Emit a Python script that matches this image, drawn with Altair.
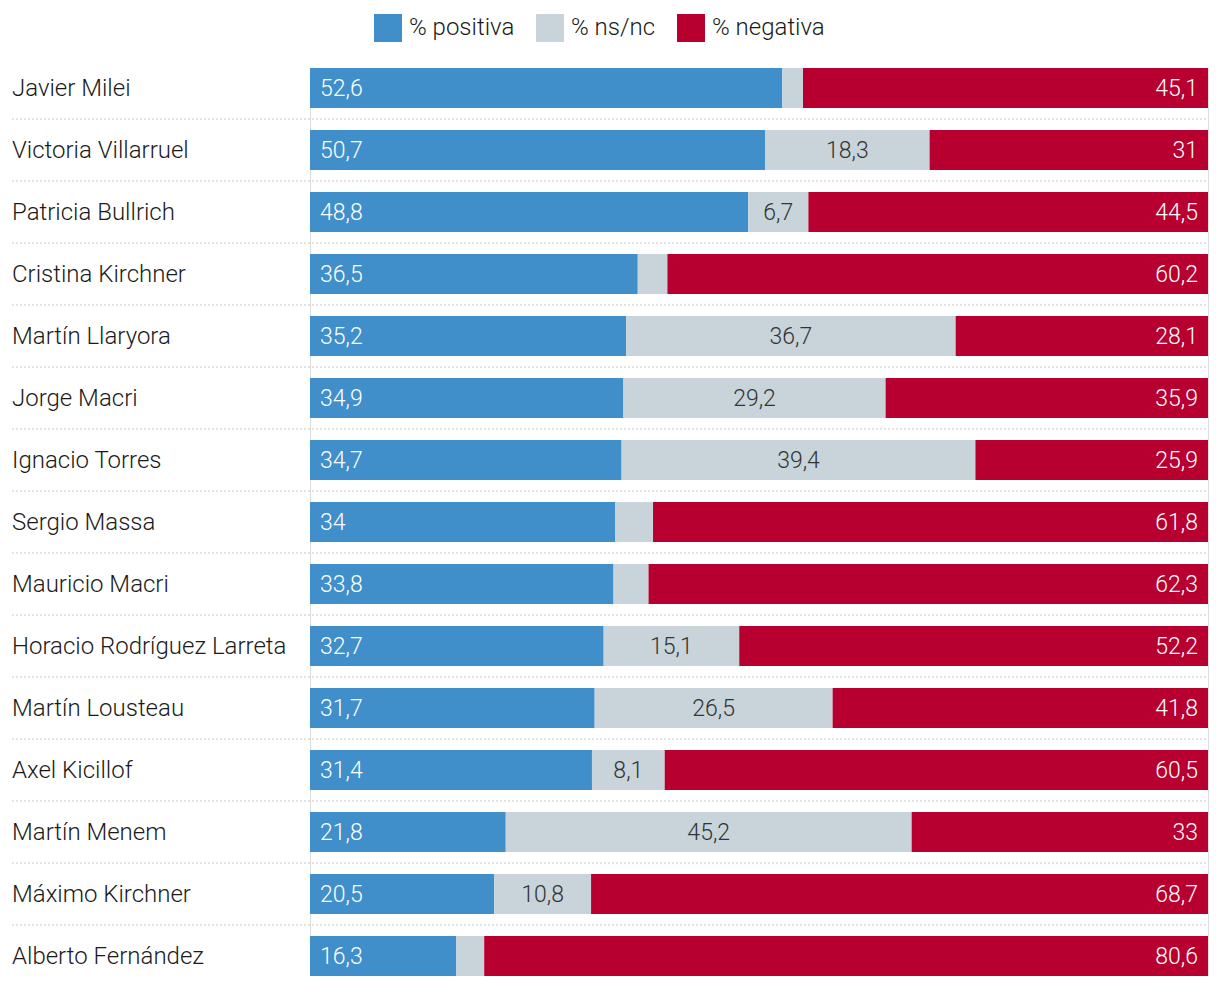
import altair as alt
import pandas as pd

names = ["Javier Milei", "Victoria Villarruel", "Patricia Bullrich", "Cristina Kirchner",
         "Martín Llaryora", "Jorge Macri", "Ignacio Torres", "Sergio Massa", "Mauricio Macri",
         "Horacio Rodríguez Larreta", "Martín Lousteau", "Axel Kicillof", "Martín Menem",
         "Máximo Kirchner", "Alberto Fernández"]
positiva = [52.6, 50.7, 48.8, 36.5, 35.2, 34.9, 34.7, 34, 33.8, 32.7, 31.7, 31.4, 21.8, 20.5, 16.3]
negativa = [45.1, 31, 44.5, 60.2, 28.1, 35.9, 25.9, 61.8, 62.3, 52.2, 41.8, 60.5, 33, 68.7, 80.6]
nsnc = [round(100 - p - n, 1) for p, n in zip(positiva, negativa)]

cat_keys = ["pos", "ns", "neg"]
cat_labels = ["% positiva", "% ns/nc", "% negativa"]
colors = ["#408fca", "#c8d3da", "#b70030"]

FONT = "Roboto"


def fmt(v):
    return f"{v:g}".replace(".", ",")


rows = []
for i, nm in enumerate(names):
    p, s, n = positiva[i], nsnc[i], negativa[i]
    segs = [("pos", "% positiva", 0, p, p), ("ns", "% ns/nc", p, p + s, s), ("neg", "% negativa", p + s, 100, n)]
    for k, lab, a, b, v in segs:
        rows.append({"name": nm, "cat": lab, "key": k, "start": a, "end": b, "val": v,
                     "mid": (a + b) / 2, "label": fmt(v), "idx": i})
df = pd.DataFrame(rows)
names_df = pd.DataFrame({"name": names, "idx": list(range(len(names)))})

yscale = alt.Scale(domain=names, paddingInner=22 / 62, paddingOuter=0)
xscale = alt.Scale(domain=[0, 100], nice=False, zero=True)

def Y(**kw):
    return alt.Y("name:N", scale=yscale, axis=None, sort=names, **kw)

base = alt.Chart(df)

bars = base.mark_bar(cornerRadius=0).encode(
    x=alt.X("start:Q", scale=xscale, axis=None),
    x2="end:Q",
    y=Y(),
    color=alt.Color("cat:N",
                    scale=alt.Scale(domain=cat_labels, range=colors),
                    legend=alt.Legend(title=None, orient="none", legendX=64, legendY=-54,
                                      direction="horizontal", symbolType="square",
                                      symbolSize=784, symbolStrokeWidth=0, symbolOpacity=1,
                                      labelFontSize=24, labelFont=FONT, labelColor="#1a1a1a",
                                      labelFontWeight=300,
                                      columnPadding=21, labelOffset=7)),
)

pos_text = base.transform_filter(alt.datum.key == "pos").mark_text(
    align="left", baseline="middle", dx=10, dy=1, font=FONT, fontSize=23, fontWeight=300, color="white"
).encode(x=alt.X("start:Q", scale=xscale), y=Y(), text="label:N")

neg_text = base.transform_filter(alt.datum.key == "neg").mark_text(
    align="right", baseline="middle", dx=-10, dy=1, font=FONT, fontSize=23, fontWeight=300, color="white"
).encode(x=alt.X("end:Q", scale=xscale), y=Y(), text="label:N")

ns_text = base.transform_filter((alt.datum.key == "ns") & (alt.datum.val >= 5)).mark_text(
    align="center", baseline="middle", dy=1, font=FONT, fontSize=23, fontWeight=300, color="#333333"
).encode(x=alt.X("mid:Q", scale=xscale), y=Y(), text="label:N")

name_text = alt.Chart(names_df).mark_text(
    align="left", baseline="middle", dy=1, font=FONT, fontSize=24, fontWeight=300, color="#1a1a1a"
).encode(x=alt.value(-298), y=Y(), text="name:N")

rules = alt.Chart(names_df).transform_filter(alt.datum.idx < len(names) - 1).mark_rule(
    strokeDash=[2, 2], color="#c8c8c8", strokeWidth=1, yOffset=11
).encode(x=alt.value(-298), x2=alt.value(898), y=Y(bandPosition=1))

chart = alt.layer(rules, bars, pos_text, neg_text, ns_text, name_text).properties(
    width=898, height=908,
    autosize=alt.AutoSizeParams(type="none"),
    padding={"left": 302, "top": 60, "right": 4, "bottom": 0},
).configure_view(stroke=None).configure(background="white")

chart.save("out.html", embed_options={"renderer": "svg", "actions": False})
